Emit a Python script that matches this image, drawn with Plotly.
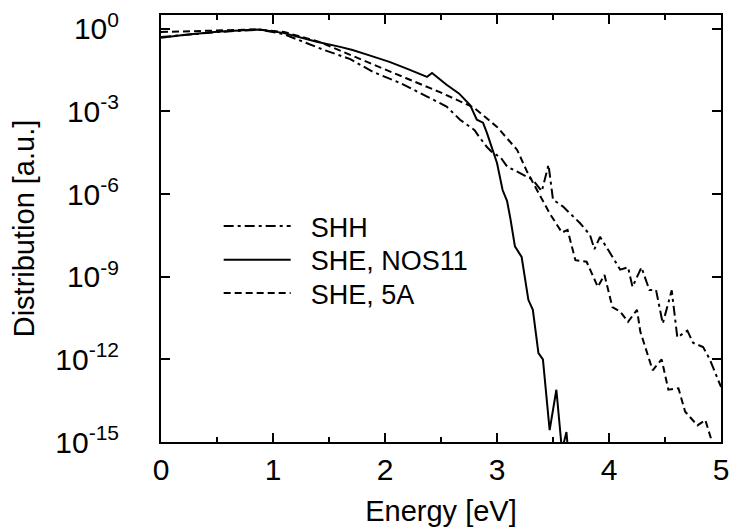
import plotly.graph_objects as go

# Energy [eV] and distribution values
e_shh = [0, 0.2, 0.5, 0.88, 1.1, 1.45, 1.69, 1.89, 2.13, 2.38, 2.55, 2.67, 2.76, 2.8, 2.84,
         2.91, 2.96, 3.03, 3.09, 3.2, 3.32, 3.4, 3.46, 3.5, 3.59, 3.74, 3.83, 3.87, 3.92,
         4.01, 4.1, 4.17, 4.21, 4.29, 4.36, 4.42, 4.48, 4.56, 4.61, 4.7, 4.75, 4.84, 4.9, 5.0]
d_shh = [5.0e-1, 6.0e-1, 7.6e-1, 9.3e-1, 6.3e-1, 1.74e-1, 7.9e-2, 2.75e-2, 1.1e-2, 3.4e-3,
         1.5e-3, 5.0e-4, 2.75e-4, 2.1e-4, 1.2e-4, 5.1e-5, 3.2e-5, 2.2e-5, 1.0e-5, 5.9e-6,
         3.3e-6, 1.26e-6, 1.15e-5, 6.3e-7, 3.5e-7, 8.9e-8, 3.3e-8, 1.0e-8, 2.8e-8, 7.2e-9,
         1.8e-9, 2.2e-9, 4.3e-10, 2.2e-9, 3.3e-10, 3.3e-10, 2.0e-11, 3.2e-10, 6.3e-12,
         1.1e-11, 4.0e-12, 2.8e-12, 1.0e-12, 1.0e-13]

e_nos11 = [0, 0.2, 0.5, 0.88, 1.09, 1.39, 1.6, 1.71, 1.84, 2.04, 2.2, 2.375, 2.42, 2.55, 2.66,
           2.76, 2.82, 2.875, 2.91, 3.0, 3.05, 3.09, 3.12, 3.16, 3.22, 3.28, 3.32, 3.37, 3.41,
           3.47, 3.53, 3.58, 3.62, 3.65]
d_nos11 = [4.7e-1, 6.0e-1, 7.8e-1, 9.5e-1, 7.1e-1, 3.4e-1, 2.2e-1, 1.7e-1, 1.15e-1, 6.3e-2,
           3.5e-2, 1.8e-2, 2.5e-2, 9.3e-3, 4.5e-3, 1.7e-3, 5.0e-4, 3.9e-4, 1.66e-4, 1.35e-5,
           1.4e-6, 5.6e-7, 1.26e-7, 1.26e-8, 5.2e-9, 1.45e-10, 6.3e-11, 1.7e-12, 1.0e-12,
           2.7e-15, 7.9e-14, 5.0e-16, 2.3e-15, 1.0e-16]

e_5a = [0, 0.2, 0.5, 0.85, 1.1, 1.4, 1.6, 1.89, 2.19, 2.49, 2.79, 3.0, 3.18, 3.27, 3.38, 3.47,
        3.58, 3.63, 3.7, 3.8, 3.9, 3.96, 4.03, 4.1, 4.17, 4.25, 4.28, 4.39, 4.47, 4.53, 4.62,
        4.68, 4.79, 4.86, 4.92, 4.96]
d_5a = [7.6e-1, 7.9e-1, 8.7e-1, 9.5e-1, 7.6e-1, 3.5e-1, 1.6e-1, 5.0e-2, 1.6e-2, 5.0e-3,
        1.4e-3, 2.75e-4, 4.0e-5, 6.3e-6, 1.0e-6, 2.0e-7, 4.0e-8, 5.0e-8, 4.0e-9, 3.5e-9,
        4.3e-10, 1.15e-9, 7.9e-11, 5.4e-11, 2.3e-11, 6.3e-11, 1.0e-11, 4.0e-13, 1.0e-12,
        7.9e-14, 8.9e-14, 1.26e-14, 4.0e-15, 6.3e-15, 1.0e-15, 3.2e-16]

x_ticks = [0, 1, 2, 3, 4, 5]
y_ticks = [1e0, 1e-3, 1e-6, 1e-9, 1e-12, 1e-15]
y_tick_text = ["10<sup>0</sup>", "10<sup>-3</sup>", "10<sup>-6</sup>", "10<sup>-9</sup>",
               "10<sup>-12</sup>", "10<sup>-15</sup>"]

FONT = "Liberation Sans, Arial, sans-serif"
NB = "\u00a0\u00a0"

fig = go.Figure()
fig.add_trace(go.Scatter(x=e_shh, y=d_shh, mode="lines", name=NB + "SHH", legend="legend",
                         line=dict(color="black", width=2, dash="10px,4px,3px,4px")))
fig.add_trace(go.Scatter(x=e_nos11, y=d_nos11, mode="lines", name=NB + "SHE, NOS11",
                         legend="legend2", line=dict(color="black", width=2)))
fig.add_trace(go.Scatter(x=e_5a, y=d_5a, mode="lines", name=NB + "SHE, 5A", legend="legend3",
                         line=dict(color="black", width=2, dash="7px,4px")))

axis_common = dict(showline=True, linecolor="black", linewidth=2, mirror="ticks",
                   ticks="inside", tickcolor="black", tickwidth=2, ticklen=9,
                   showgrid=False, zeroline=False, automargin=False,
                   tickfont=dict(family=FONT, size=30, color="black"),
                   title_font=dict(family=FONT, size=29, color="black"))

fig.update_xaxes(range=[0, 5], tickvals=x_ticks, ticktext=[str(v) for v in x_ticks],
                 minor=dict(dtick=0.5, ticks="inside", ticklen=5, tickwidth=2, tickcolor="black"),
                 ticklabelstandoff=0,
                 title_text="Energy [eV]", title_standoff=16, **axis_common)
fig.update_yaxes(type="log", range=[-15, 0.5], tickvals=y_ticks, ticktext=y_tick_text,
                 ticklabelstandoff=34,
                 title_text="Distribution [a.u.]", title_standoff=12, **axis_common)

leg_common = dict(x=0.103, xanchor="left", yanchor="top", bgcolor="rgba(0,0,0,0)",
                  itemwidth=67, font=dict(family=FONT, size=27, color="black"))

fig.update_layout(
    width=732, height=532,
    margin=dict(l=161, r=11, t=15, b=90),
    paper_bgcolor="white", plot_bgcolor="white",
    showlegend=True,
    legend=dict(y=0.562, **leg_common),
    legend2=dict(y=0.483, **leg_common),
    legend3=dict(y=0.405, **leg_common),
)

fig.write_html("out.html")
